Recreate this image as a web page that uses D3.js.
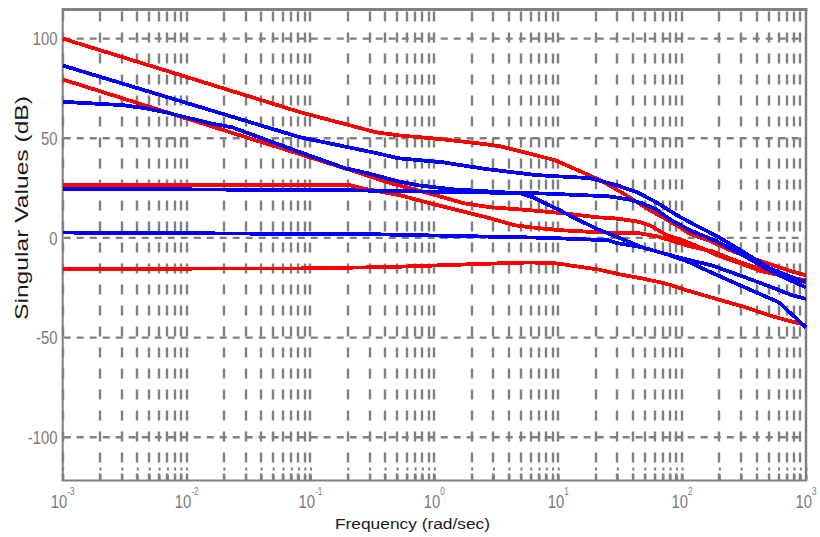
<!DOCTYPE html>
<html>
<head>
<meta charset="utf-8">
<title>Singular Values</title>
<script src="https://cdn.jsdelivr.net/npm/d3@7"></script>
<style>
  body { margin: 0; background: #fff; }
  svg { display: block; }
  text { font-family: "Liberation Sans", Arial, sans-serif; }
</style>
</head>
<body>
<div id="chart"></div>
<script>
// frequency in rad/sec, singular values in dB
const redA_w  = [0.001, 0.0824, 0.338, 0.508, 1.15, 2.25, 3.38, 5.69, 9.4, 15.0, 21.7, 33.3, 55.0, 90.8, 116, 168, 243, 466, 769, 1000];
const redA_db = [100, 63.1, 53.0, 51.5, 49.5, 47.5, 46.0, 42.5, 39.0, 33.5, 29.0, 22.4, 13.9, 6.3, 2.0, -1.5, -6.2, -12.3, -16.8, -18.8];

const redB_w  = [0.001, 0.237, 0.392, 0.635, 1.03, 1.73, 2.81, 5.91, 10.9, 20.2, 28.7, 43.2, 55.0, 75.4, 101, 139, 191, 282, 440, 1000];
const redB_db = [79.5, 33.0, 28.4, 24.9, 21.4, 17.4, 15.4, 13.9, 12.4, 10.4, 9.8, 8.3, 6.3, 1.3, -1.2, -4.7, -8.7, -12.3, -16.8, -21.3];

const redC_w  = [0.001, 0.209, 0.262, 0.528, 0.923, 1.55, 2.66, 4.48, 7.13, 10.9, 21.7, 45.1, 63.8, 79.8, 116, 174, 282, 511, 1000];
const redC_db = [26.4, 26.4, 24.9, 21.4, 17.4, 13.9, 10.3, 6.3, 4.8, 3.8, 2.8, 2.3, 0.8, -1.2, -4.2, -6.7, -11.8, -17.3, -22.3];

const redD_w  = [0.001, 0.0824, 0.438, 2.49, 5.91, 9.77, 14.2, 20.9, 31.5, 47.4, 72.7, 116, 194, 321, 531, 1000];
const redD_db = [-15.5, -15.3, -14.6, -13.0, -12.3, -12.8, -14.3, -15.8, -18.3, -20.3, -22.8, -26.8, -30.8, -34.7, -39.3, -43.8];

const blueA_w  = [0.001, 0.0824, 0.344, 0.508, 1.15, 2.66, 6.73, 18.0, 29.8, 43.2, 63.8, 90.8, 116, 192, 306, 511, 893, 1000];
const blueA_db = [86.5, 50.5, 42.5, 40.0, 38.0, 34.5, 31.5, 30.0, 26.4, 23.0, 17.4, 11.4, 7.8, 0.8, -6.7, -15.3, -21.3, -21.8];

const blueB_w  = [0.001, 0.00307, 0.00461, 0.0067, 0.0113, 0.0155, 0.0233, 0.0824, 0.190, 0.292, 0.508, 0.738, 1.39, 4.91, 6.25, 7.82, 10.3, 13.6, 20.9, 30.4, 47.4, 75.4, 116, 153, 239, 379, 604, 755, 1000];
const blueB_db = [68.3, 66.6, 65.1, 63.1, 59.6, 57.5, 55.5, 43.0, 35.0, 32.4, 28.4, 26.4, 24.4, 22.4, 20.4, 17.4, 13.9, 9.9, 4.3, 0.3, -4.7, -8.2, -12.3, -15.9, -21.3, -26.8, -32.3, -37.9, -44.9];

const blueC_w  = [0.001, 0.2, 7.5, 25.2, 36.5, 47.4, 61.5, 79.8, 116, 191, 321, 561, 845, 1000];
const blueC_db = [24.7, 23.9, 22.3, 20.9, 19.4, 17.4, 14.4, 9.3, 3.8, -1.7, -9.2, -17.8, -22.8, -24.8];

const blueD_w  = [0.001, 0.344, 8.11, 25.2, 30.4, 47.4, 75.4, 116, 174, 308, 531, 769, 1000];
const blueD_db = [2.7, 1.8, 0.05, -1.2, -2.7, -4.7, -8.2, -11.2, -13.8, -19.3, -24.8, -28.7, -30.6];

const yTicks = [-100, -50, 0, 50, 100];
const xTickExps = [-3, -2, -1, 0, 1, 2, 3];

const RED = "#ff0000", BLUE = "#0000ff", GRID = "#808080";

const series = [
  { w: redA_w, db: redA_db, color: RED },
  { w: redB_w, db: redB_db, color: RED },
  { w: redC_w, db: redC_db, color: RED },
  { w: redD_w, db: redD_db, color: RED },
  { w: blueA_w, db: blueA_db, color: BLUE },
  { w: blueB_w, db: blueB_db, color: BLUE },
  { w: blueC_w, db: blueC_db, color: BLUE },
  { w: blueD_w, db: blueD_db, color: BLUE }
];

const W = 820, H = 537;
const plotL = 62.7, plotR = 806, plotT = 9.5, plotB = 480.5;

const svg = d3.select("#chart").append("svg")
  .attr("width", W).attr("height", H);

const x = d3.scaleLog().domain([1e-3, 1e3]).range([plotL, plotR]);
const y = d3.scaleLinear().domain([-121.7, 114.6]).range([plotB, plotT]);

// grid
const grid = svg.append("g").attr("stroke", GRID).attr("stroke-width", 2.4).attr("fill", "none");
grid.selectAll("line.v").data(x.ticks().filter(d => d < 999)).join("line")
  .attr("class", "v")
  .attr("x1", d => Math.round(x(d))).attr("x2", d => Math.round(x(d)))
  .attr("y1", plotT + 2).attr("y2", plotB)
  .attr("stroke-dasharray", "10,11");
grid.selectAll("line.h").data(yTicks).join("line")
  .attr("class", "h")
  .attr("x1", plotL + 1).attr("x2", plotR)
  .attr("y1", d => y(d)).attr("y2", d => y(d))
  .attr("stroke-dasharray", "7,6");

// bottom ticks
const xAxis = d3.axisBottom(x).tickValues(x.ticks()).tickSize(-14).tickFormat("");
const gx = svg.append("g").attr("transform", `translate(0,${plotB})`).call(xAxis);
gx.select(".domain").remove();
gx.selectAll(".tick line").attr("stroke", GRID).attr("stroke-width", 2)
  .attr("stroke-dasharray", "6,4,3,20");

// box
const box = svg.append("g").attr("stroke", GRID);
box.append("line").attr("x1", plotL - 1).attr("x2", plotR + 1.5).attr("y1", plotT).attr("y2", plotT).attr("stroke-width", 3);
box.append("line").attr("x1", plotL).attr("x2", plotL).attr("y1", plotT).attr("y2", plotB).attr("stroke-width", 2);
box.append("line").attr("x1", plotR).attr("x2", plotR).attr("y1", plotT).attr("y2", plotB).attr("stroke-width", 2.5);
box.append("line").attr("x1", plotL - 1).attr("x2", plotR + 1).attr("y1", plotB).attr("y2", plotB).attr("stroke-width", 2.2);

// singular value curves
const line = d3.line().x(d => x(d[0])).y(d => y(d[1]));
svg.append("g").selectAll("path").data(series).join("path")
  .attr("d", s => line(d3.zip(s.w, s.db)))
  .attr("fill", "none")
  .attr("stroke", s => s.color)
  .attr("stroke-width", 3.8)
  .attr("shape-rendering", "crispEdges");

// y tick labels
svg.append("g").selectAll("g").data(yTicks).join("g")
  .attr("transform", d => `translate(57.5,${y(d) + 6.8}) scale(0.78,1)`)
  .append("text")
  .attr("text-anchor", "end")
  .attr("font-size", 19)
  .attr("fill", "#7a7a7a")
  .text(d => d);

// x tick labels 10^n
const xl = svg.append("g").selectAll("g").data(xTickExps).join("g")
  .attr("transform", d => `translate(${x(Math.pow(10, d))},508) scale(0.78,1)`)
  .append("text")
  .attr("text-anchor", "middle")
  .attr("font-size", 19)
  .attr("fill", "#7a7a7a");
xl.append("tspan").text("10");
xl.append("tspan").attr("dy", -13).attr("font-size", 10.5).text(d => d);

// axis labels
svg.append("text")
  .attr("x", 412.5).attr("y", 529)
  .attr("text-anchor", "middle")
  .attr("font-size", 15.5)
  .attr("fill", "#1a1a1a")
  .attr("textLength", 155).attr("lengthAdjust", "spacingAndGlyphs")
  .text("Frequency (rad/sec)");

svg.append("text")
  .attr("transform", "translate(28,208) rotate(-90)")
  .attr("text-anchor", "middle")
  .attr("font-size", 19)
  .attr("fill", "#1a1a1a")
  .attr("textLength", 224).attr("lengthAdjust", "spacingAndGlyphs")
  .text("Singular Values (dB)");
</script>
</body>
</html>
